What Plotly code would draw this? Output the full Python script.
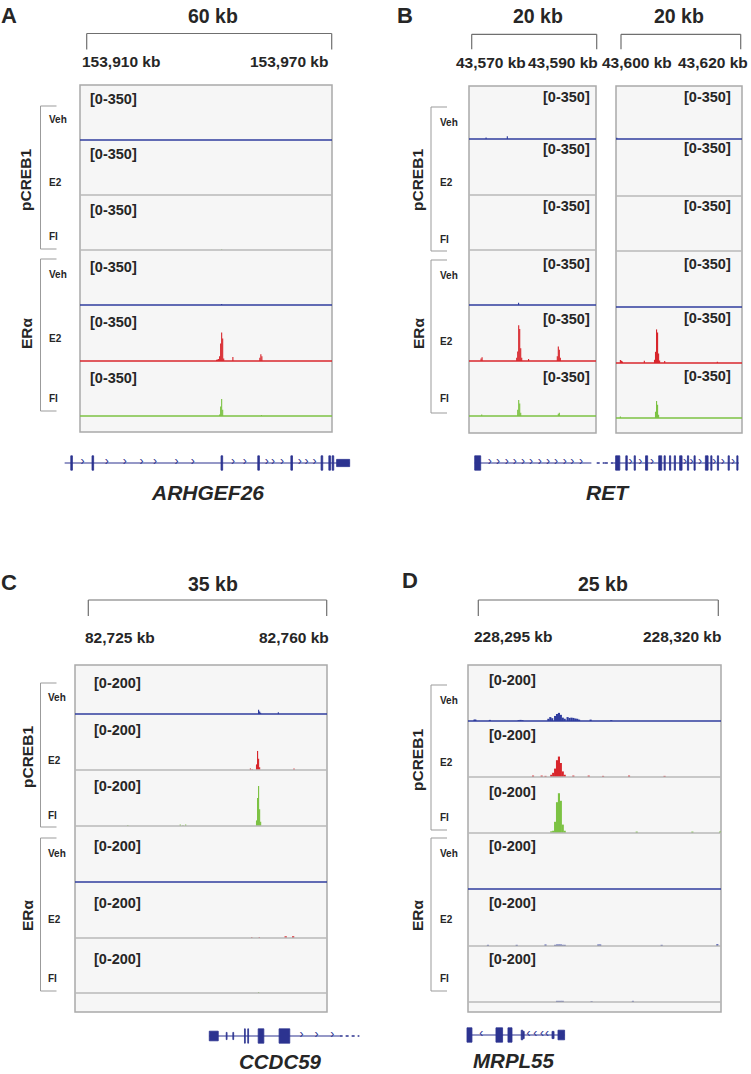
import plotly.graph_objects as go

# ======================= DATA =======================
TREATMENTS = ["Veh", "E2", "FI", "Veh", "E2", "FI"]
FACTORS = ["pCREB1", "ERα"]

# ---------- Panel A : ARHGEF26, scale [0-350], genomic kb ----------
A_SPAN_LABEL = "60 kb"
A_WINDOW = [153910, 153970]
A_TICK_LABELS = ["153,910 kb", "153,970 kb"]
A_SCALE_MAX = 350
A_SCALE_LABEL = "[0-350]"
A_PCREB_VEH_X, A_PCREB_VEH_Y = [], []
A_PCREB_E2_X, A_PCREB_E2_Y = [], []
A_PCREB_FI_X, A_PCREB_FI_Y = [153943.05], [5]
A_ERA_VEH_X, A_ERA_VEH_Y = [153943.05], [6]
A_ERA_E2_X = [153941.8, 153942.05, 153942.3, 153942.55, 153942.8, 153943.05, 153943.3,
              153943.55, 153945.8, 153952.4, 153952.65, 153952.9]
A_ERA_E2_Y = [8, 10, 12, 30, 110, 178, 140, 15, 25, 20, 42, 30]
A_ERA_FI_X = [153942.55, 153942.8, 153943.05, 153943.3, 153952.8]
A_ERA_FI_Y = [10, 60, 108, 40, 6]
A_GENE = "ARHGEF26"
A_GENE_LINE = [153904.6, 153974.4]
A_EXON_START = [153906.1, 153911.3, 153942.9, 153951.9, 153960.0, 153967.4, 153969.3, 153970.1, 153971.2]
A_EXON_END = [153906.5, 153911.7, 153943.3, 153952.3, 153960.4, 153967.8, 153969.7, 153970.5, 153974.4]
A_EXON_KIND = ["cds", "cds", "cds", "cds", "cds", "cds", "cds", "cds", "utr"]
A_GENE_ARROWS = [153909.0, 153914.9, 153919.3, 153923.4, 153926.7, 153932.0, 153936.0, 153945.8,
                 153948.7, 153954.1, 153955.6, 153957.8, 153962.2, 153963.8, 153965.8]

# ---------- Panel B : RET, two windows, scale [0-350] ----------
B_SPAN_LABELS = ["20 kb", "20 kb"]
B_WINDOWS = [[43570, 43590], [43600, 43620]]
B_TICK_LABELS = [["43,570 kb", "43,590 kb"], ["43,600 kb", "43,620 kb"]]
B_SCALE_MAX = 350
B_SCALE_LABEL = "[0-350]"
B1_PCREB_VEH_X, B1_PCREB_VEH_Y = [43572.3, 43575.7], [10, 18]
B1_PCREB_E2_X, B1_PCREB_E2_Y = [], []
B1_PCREB_FI_X, B1_PCREB_FI_Y = [], []
B1_ERA_VEH_X, B1_ERA_VEH_Y = [43577.5], [14]
B1_ERA_E2_X = [43571.5, 43571.66, 43577.2, 43577.36, 43577.52, 43577.68, 43577.84, 43578.0,
               43579.1, 43583.7, 43583.86, 43584.02, 43584.18]
B1_ERA_E2_Y = [16, 24, 20, 60, 223, 200, 80, 20, 13, 30, 91, 70, 20]
B1_ERA_FI_X = [43571.6, 43577.36, 43577.52, 43577.68, 43577.84, 43583.86, 43584.02]
B1_ERA_FI_Y = [10, 40, 102, 80, 20, 14, 21]
B2_PCREB_VEH_X, B2_PCREB_VEH_Y = [43599.3], [8]
B2_PCREB_E2_X, B2_PCREB_E2_Y = [], []
B2_PCREB_FI_X, B2_PCREB_FI_Y = [], []
B2_ERA_VEH_X, B2_ERA_VEH_Y = [], []
B2_ERA_E2_X = [43599.9, 43600.07, 43600.24, 43603.9, 43605.6, 43605.77, 43605.94, 43606.11,
               43606.28, 43606.45, 43607.3, 43616.1]
B2_ERA_E2_Y = [18, 14, 10, 14, 20, 70, 210, 190, 60, 15, 13, 8]
B2_ERA_FI_X = [43599.9, 43605.77, 43605.94, 43606.11, 43606.28]
B2_ERA_FI_Y = [10, 40, 108, 85, 20]
B_GENE = "RET"
B_GENE_L_LINE = [43570.48, 43589.15]
B_GENE_L_DOTS = [43590.0, 43591.3]
B_GENE_L_EXON_START = [43570.48]
B_GENE_L_EXON_END = [43571.44]
B_GENE_L_EXON_KIND = ["cds"]
B_GENE_L_ARROWS = [43572.9, 43574.2, 43575.6, 43576.9, 43578.2, 43579.5, 43580.9, 43582.2,
                   43583.5, 43584.9, 43586.1, 43587.5]
B_GENE_R_DOTS = [43597.3, 43598.7]
B_GENE_R_LINE = [43598.7, 43619.7]
B_GENE_R_EXON_START = [43599.1, 43600.8, 43602.2, 43604.1, 43606.3, 43607.2, 43608.1, 43608.9,
                       43609.8, 43611.1, 43612.2, 43614.1, 43615.0, 43616.1, 43617.9, 43619.35]
B_GENE_R_EXON_END = [43599.8, 43601.05, 43602.4, 43604.45, 43606.8, 43607.4, 43608.3, 43609.1,
                     43610.2, 43611.3, 43612.4, 43614.55, 43615.2, 43616.3, 43618.1, 43619.55]
B_GENE_R_EXON_KIND = ["cds"] * 16
B_GENE_R_ARROWS = [43601.6, 43603.2, 43605.2, 43610.7, 43611.8, 43613.2, 43615.6, 43617.0, 43618.7]

# ---------- Panel C : CCDC59, scale [0-200] ----------
C_SPAN_LABEL = "35 kb"
C_WINDOW = [82725, 82760]
C_TICK_LABELS = ["82,725 kb", "82,760 kb"]
C_SCALE_MAX = 200
C_SCALE_LABEL = "[0-200]"
C_PCREB_VEH_X, C_PCREB_VEH_Y = [82750.0, 82750.15, 82750.3, 82752.9], [17, 10, 5, 7]
C_PCREB_E2_X = [82748.8, 82749.05, 82749.7, 82749.85, 82750.0, 82750.15, 82755.2]
C_PCREB_E2_Y = [5, 4, 20, 68, 40, 10, 5]
C_PCREB_FI_X = [82730.8, 82738.5, 82738.9, 82739.3, 82749.7, 82749.85, 82750.0, 82750.15, 82750.3]
C_PCREB_FI_Y = [4, 5, 4, 5, 20, 100, 143, 60, 15]
C_ERA_VEH_X, C_ERA_VEH_Y = [], []
C_ERA_E2_X = [82749.0, 82750.1, 82753.9, 82754.05, 82755.0, 82755.15]
C_ERA_E2_Y = [4, 4, 6, 6, 6, 6]
C_ERA_FI_X, C_ERA_FI_Y = [82750.0], [4]
C_GENE = "CCDC59"
C_GENE_LINE = [82742.76, 82761.9]
C_GENE_DOTS = [82761.9, 82764.8]
C_EXON_START = [82742.76, 82745.25, 82746.22, 82747.93, 82748.41, 82749.94, 82753.01]
C_EXON_END = [82744.08, 82745.37, 82746.34, 82748.05, 82748.53, 82750.77, 82754.58]
C_EXON_KIND = ["mid", "utr", "utr", "cds", "cds", "cds", "cds"]
C_GENE_ARROWS = [82756.3, 82758.5, 82760.8]

# ---------- Panel D : MRPL55, scale [0-200] ----------
D_SPAN_LABEL = "25 kb"
D_WINDOW = [228295, 228320]
D_TICK_LABELS = ["228,295 kb", "228,320 kb"]
D_SCALE_MAX = 200
D_SCALE_LABEL = "[0-200]"
D_PCREB_VEH_X = [228294.6, 228294.7, 228296.2, 228299.2, 228299.4, 228299.6, 228302.3, 228302.5,
                 228302.7, 228303.0, 228303.2, 228303.4, 228303.6, 228303.8, 228304.0, 228304.3,
                 228304.5, 228304.7, 228304.9, 228305.1, 228305.3, 228305.5, 228306.7, 228308.85]
D_PCREB_VEH_Y = [5, 5, 4, 3, 4, 3, 8, 14, 10, 18, 25, 29, 22, 12, 8, 14, 11, 12, 11, 9, 8, 5, 5, 3]
D_PCREB_E2_X = [228300.7, 228301.6, 228302.0, 228302.6, 228302.8, 228303.0, 228303.2, 228303.4,
                228303.6, 228303.8, 228304.0, 228304.9, 228306.5, 228308.0, 228310.7, 228314.4]
D_PCREB_E2_Y = [5, 5, 4, 8, 15, 30, 60, 73, 50, 20, 8, 5, 5, 4, 5, 4]
D_PCREB_FI_X = [228302.6, 228302.8, 228303.0, 228303.2, 228303.4, 228303.6, 228303.8, 228304.0,
                228311.5, 228317.3, 228320.2]
D_PCREB_FI_Y = [6, 8, 40, 110, 142, 115, 30, 8, 5, 5, 5]
D_ERA_VEH_X, D_ERA_VEH_Y = [], []
D_ERA_E2_X = [228296.0, 228299.0, 228302.0, 228303.0, 228303.2, 228303.4, 228303.6, 228303.8,
              228304.0, 228307.5, 228307.7, 228314.1, 228319.9]
D_ERA_E2_Y = [4, 4, 5, 4, 5, 5, 5, 4, 4, 5, 5, 4, 6]
D_ERA_FI_X = [228303.2, 228303.4, 228303.6, 228303.8, 228306.8, 228311.1]
D_ERA_FI_Y = [4, 4, 4, 4, 3, 4]
D_GENE = "MRPL55"
D_GENE_LINE = [228293.82, 228303.99]
D_EXON_START = [228293.82, 228296.84, 228298.09, 228299.47, 228299.66, 228302.68, 228303.30]
D_EXON_END = [228294.34, 228297.53, 228298.51, 228299.63, 228299.78, 228302.89, 228303.99]
D_EXON_KIND = ["cds", "cds", "cds", "mid", "utr", "utr", "mid"]
D_GENE_ARROWS = [228295.31, 228300.24, 228300.94, 228301.64, 228302.16]

# ======================= STYLE / LAYOUT =======================
W, H = 751, 1074
FONT = "Liberation Sans, Arial, Helvetica, sans-serif"
TXT = "#262626"
BLUE = "#2f3c9e"
RED = "#d8262c"
GREEN = "#7cc243"
NAVY = "#2c3390"
SEP = "#b8b8b8"
BOXLINE = "#a9a9a9"
BG = "#f6f6f6"
BRK = "#6f6f6f"
GBRK = "#9b9b9b"
EXON_HALF = {"cds": 0.9, "mid": 0.6, "utr": 0.45}
EXT = 3  # px of axis domain kept below each baseline so the baseline line is not clipped


def PX(x):
    return x / W


def PY(y):
    return 1 - y / H


fig = go.Figure()
L = dict(width=W, height=H, margin=dict(l=0, r=0, t=0, b=0), template="none",
         paper_bgcolor="white", plot_bgcolor="rgba(0,0,0,0)", showlegend=False,
         barmode="overlay")
shapes, annots = [], []
cnt = {"x": 0, "y": 0}


def axis(kind, lo, hi, rng, anchor=None):
    cnt[kind] += 1
    n = cnt[kind]
    ref = kind if n == 1 else f"{kind}{n}"
    d = dict(domain=[lo, hi], range=rng, visible=False, fixedrange=True,
             showgrid=False, zeroline=False)
    if anchor:
        d["anchor"] = anchor
    L[f"{kind}axis" + ("" if n == 1 else str(n))] = d
    return ref


def text(x, y, s, size, bold=True, italic=False, anchor="center", angle=0):
    annots.append(dict(x=PX(x), y=PY(y), xref="paper", yref="paper", text=s, showarrow=False,
                       xanchor=anchor, yanchor="middle", textangle=angle,
                       font=dict(family=FONT, size=size, color=TXT,
                                 weight="bold" if bold else "normal",
                                 style="italic" if italic else "normal")))


def pline(x0, y0, x1, y1, color, w):
    shapes.append(dict(type="line", xref="paper", yref="paper", x0=PX(x0), y0=PY(y0),
                       x1=PX(x1), y1=PY(y1), line=dict(color=color, width=w)))


def scale_of(bracket, window):
    b0, b1 = bracket
    s = (window[1] - window[0]) / (b1 - b0)
    return lambda px: window[0] + (px - b0) * s


def view(box, bracket, window, top, bottom, baselines, xs, ys, colors, colored,
         smax, slabel, lab_x, lab_anchor, lab_ys, bin_w, brk_y, title, title_xy,
         ticklabels, tick_xs, tick_y):
    f = scale_of(bracket, window)
    xr = axis("x", PX(box[0]), PX(box[1]), [f(box[0]), f(box[1])])
    shapes.append(dict(type="rect", xref="paper", yref="paper", x0=PX(box[0]), x1=PX(box[1]),
                       y0=PY(bottom), y1=PY(top), fillcolor=BG,
                       line=dict(color=BOXLINE, width=1.5), layer="below"))
    tops = [top] + baselines[:-1]
    for i in range(6):
        h = baselines[i] - tops[i]
        yr = axis("y", PY(baselines[i] + EXT), PY(tops[i]), [-smax * EXT / h, smax], anchor=xr)
        if xs[i]:
            fig.add_trace(go.Bar(x=xs[i], y=ys[i], width=bin_w, base=0, xaxis=xr, yaxis=yr,
                                 marker=dict(color=colors[i], line=dict(width=0)),
                                 hoverinfo="skip"))
        shapes.append(dict(type="line", xref=f"{xr} domain", yref=yr, x0=0, x1=1, y0=0, y1=0,
                           line=dict(color=colors[i] if colored[i] else SEP,
                                     width=1.7 if colored[i] else 1.3)))
        text(lab_x, lab_ys[i], slabel, 14.5, anchor=lab_anchor)
    # scale bracket
    b0, b1 = bracket
    pline(b0, brk_y[0], b1, brk_y[0], BRK, 1.2)
    pline(b0, brk_y[0], b0, brk_y[1], BRK, 1.2)
    pline(b1, brk_y[0], b1, brk_y[1], BRK, 1.2)
    text(title_xy[0], title_xy[1], title, 19.5)
    for lab, tx in zip(ticklabels, tick_xs):
        text(tx, tick_y, lab, 15.5)


def side_labels(lab_x, lab_ys, bx, groups, gl_x, gl_ys):
    for t, yy in zip(TREATMENTS, lab_ys):
        text(lab_x, yy, t, 10, anchor="left")
    for (g0, g1), name, gy in zip(groups, FACTORS, gl_ys):
        pline(bx, g0, bx, g1, GBRK, 1)
        pline(bx, g0, bx + 16, g0, GBRK, 1)
        pline(bx, g1, bx + 16, g1, GBRK, 1)
        text(gl_x, gy, name, 15.5, angle=-90)


def gene(dom_px, bracket, window, yc, lines, dots, ex_s, ex_e, ex_k, arrows, arrow_char):
    f = scale_of(bracket, window)
    gx = axis("x", PX(dom_px[0]), PX(dom_px[1]), [f(dom_px[0]), f(dom_px[1])])
    gy = axis("y", PY(yc + 8), PY(yc - 8), [-1, 1], anchor=gx)
    for seg in lines:
        fig.add_trace(go.Scatter(x=seg, y=[0] * len(seg), mode="lines", xaxis=gx, yaxis=gy,
                                 line=dict(color=NAVY, width=1.2), hoverinfo="skip"))
    for seg in dots:
        fig.add_trace(go.Scatter(x=seg, y=[0] * len(seg), mode="lines", xaxis=gx, yaxis=gy,
                                 line=dict(color=NAVY, width=1.6, dash="dot"), hoverinfo="skip"))
    for s, e, k in zip(ex_s, ex_e, ex_k):
        h = EXON_HALF[k]
        shapes.append(dict(type="rect", xref=gx, yref=gy, x0=s, x1=e, y0=-h, y1=h,
                           fillcolor=NAVY, line=dict(color=NAVY, width=0.8)))
    if arrows:
        fig.add_trace(go.Scatter(x=arrows, y=[0.12] * len(arrows), mode="text",
                                 text=[arrow_char] * len(arrows), xaxis=gx, yaxis=gy,
                                 textfont=dict(family=FONT, size=12, color=NAVY),
                                 hoverinfo="skip"))


COL_STD = [BLUE, RED, GREEN, BLUE, RED, GREEN]
COL_D = [BLUE, RED, GREEN, BLUE, BLUE, BLUE]
ON_AB = [True, False, False, True, True, True]
ON_CD = [True, False, False, True, False, False]

# ---------------- Panel A ----------------
text(9, 15, "A", 22)
view(box=(80, 332), bracket=(86.7, 331.7), window=A_WINDOW, top=85, bottom=432,
     baselines=[140, 195, 250, 305, 361, 416],
     xs=[A_PCREB_VEH_X, A_PCREB_E2_X, A_PCREB_FI_X, A_ERA_VEH_X, A_ERA_E2_X, A_ERA_FI_X],
     ys=[A_PCREB_VEH_Y, A_PCREB_E2_Y, A_PCREB_FI_Y, A_ERA_VEH_Y, A_ERA_E2_Y, A_ERA_FI_Y],
     colors=COL_STD, colored=ON_AB, smax=A_SCALE_MAX, slabel=A_SCALE_LABEL,
     lab_x=88, lab_anchor="left", lab_ys=[99, 154, 210, 267, 322, 378], bin_w=0.27,
     brk_y=(33.5, 49.5), title=A_SPAN_LABEL, title_xy=(213, 16),
     ticklabels=A_TICK_LABELS, tick_xs=[121, 289], tick_y=62)
side_labels(47, [120, 182, 237, 274, 339, 398], 40.5, [(106, 249), (259, 411)], 26, [180, 333])
gene((60, 360), (86.7, 331.7), A_WINDOW, 463, [A_GENE_LINE], [],
     A_EXON_START, A_EXON_END, A_EXON_KIND, A_GENE_ARROWS, "›")
text(207, 493, A_GENE, 21, italic=True)

# ---------------- Panel B ----------------
text(405, 15, "B", 22)
view(box=(469, 596), bracket=(471.7, 596.7), window=B_WINDOWS[0], top=86, bottom=433,
     baselines=[139, 195, 250, 305, 361, 416],
     xs=[B1_PCREB_VEH_X, B1_PCREB_E2_X, B1_PCREB_FI_X, B1_ERA_VEH_X, B1_ERA_E2_X, B1_ERA_FI_X],
     ys=[B1_PCREB_VEH_Y, B1_PCREB_E2_Y, B1_PCREB_FI_Y, B1_ERA_VEH_Y, B1_ERA_E2_Y, B1_ERA_FI_Y],
     colors=COL_STD, colored=ON_AB, smax=B_SCALE_MAX, slabel=B_SCALE_LABEL,
     lab_x=592, lab_anchor="right", lab_ys=[97, 149, 206, 264, 319, 377], bin_w=0.18,
     brk_y=(34.3, 49.3), title=B_SPAN_LABELS[0], title_xy=(538, 16),
     ticklabels=B_TICK_LABELS[0], tick_xs=[491, 563], tick_y=63)
view(box=(616, 742), bracket=(621, 740.7), window=B_WINDOWS[1], top=86, bottom=433,
     baselines=[139, 196, 251, 307, 363, 418],
     xs=[B2_PCREB_VEH_X, B2_PCREB_E2_X, B2_PCREB_FI_X, B2_ERA_VEH_X, B2_ERA_E2_X, B2_ERA_FI_X],
     ys=[B2_PCREB_VEH_Y, B2_PCREB_E2_Y, B2_PCREB_FI_Y, B2_ERA_VEH_Y, B2_ERA_E2_Y, B2_ERA_FI_Y],
     colors=COL_STD, colored=ON_AB, smax=B_SCALE_MAX, slabel=B_SCALE_LABEL,
     lab_x=733, lab_anchor="right", lab_ys=[97, 148, 206, 264, 318, 376], bin_w=0.19,
     brk_y=(34.3, 49.3), title=B_SPAN_LABELS[1], title_xy=(679, 16),
     ticklabels=B_TICK_LABELS[1], tick_xs=[637, 713], tick_y=63)
side_labels(438, [122, 183, 239, 275, 341, 399], 431, [(107, 251), (260, 413)], 418, [180, 333])
gene((465, 605), (471.7, 596.7), B_WINDOWS[0], 463, [B_GENE_L_LINE], [B_GENE_L_DOTS],
     B_GENE_L_EXON_START, B_GENE_L_EXON_END, B_GENE_L_EXON_KIND, B_GENE_L_ARROWS, "›")
gene((605, 745), (621, 740.7), B_WINDOWS[1], 463, [B_GENE_R_LINE], [B_GENE_R_DOTS],
     B_GENE_R_EXON_START, B_GENE_R_EXON_END, B_GENE_R_EXON_KIND, B_GENE_R_ARROWS, "›")
text(608, 493, B_GENE, 21, italic=True)

# ---------------- Panel C ----------------
text(9, 582, "C", 22)
view(box=(75, 327), bracket=(88.3, 326.7), window=C_WINDOW, top=665, bottom=1012,
     baselines=[714, 770, 826, 882, 938, 993],
     xs=[C_PCREB_VEH_X, C_PCREB_E2_X, C_PCREB_FI_X, C_ERA_VEH_X, C_ERA_E2_X, C_ERA_FI_X],
     ys=[C_PCREB_VEH_Y, C_PCREB_E2_Y, C_PCREB_FI_Y, C_ERA_VEH_Y, C_ERA_E2_Y, C_ERA_FI_Y],
     colors=COL_STD, colored=ON_CD, smax=C_SCALE_MAX, slabel=C_SCALE_LABEL,
     lab_x=92, lab_anchor="left", lab_ys=[683, 730, 786, 846, 903, 959], bin_w=0.17,
     brk_y=(600, 616), title=C_SPAN_LABEL, title_xy=(213, 584),
     ticklabels=C_TICK_LABELS, tick_xs=[120, 294], tick_y=637)
side_labels(46, [697, 760, 815, 853, 919, 978], 40.5, [(683, 827), (838, 991)], 27, [757, 915])
gene((200, 370), (88.3, 326.7), C_WINDOW, 1036, [C_GENE_LINE], [C_GENE_DOTS],
     C_EXON_START, C_EXON_END, C_EXON_KIND, C_GENE_ARROWS, "›")
text(280, 1061, C_GENE, 20.5, italic=True)

# ---------------- Panel D ----------------
text(410, 580, "D", 22)
view(box=(468, 721), bracket=(478.3, 718.3), window=D_WINDOW, top=665, bottom=1012,
     baselines=[721, 777, 833, 889, 946, 1002],
     xs=[D_PCREB_VEH_X, D_PCREB_E2_X, D_PCREB_FI_X, D_ERA_VEH_X, D_ERA_E2_X, D_ERA_FI_X],
     ys=[D_PCREB_VEH_Y, D_PCREB_E2_Y, D_PCREB_FI_Y, D_ERA_VEH_Y, D_ERA_E2_Y, D_ERA_FI_Y],
     colors=COL_D, colored=ON_CD, smax=D_SCALE_MAX, slabel=D_SCALE_LABEL,
     lab_x=487, lab_anchor="left", lab_ys=[680, 735, 792, 846, 903, 959], bin_w=0.22,
     brk_y=(600, 616), title=D_SPAN_LABEL, title_xy=(603, 584),
     ticklabels=D_TICK_LABELS, tick_xs=[513, 682], tick_y=636)
side_labels(438, [700, 762, 817, 853, 919, 978], 431, [(685, 830), (838, 991)], 417, [760, 915])
gene((460, 570), (478.3, 718.3), D_WINDOW, 1035, [D_GENE_LINE], [],
     D_EXON_START, D_EXON_END, D_EXON_KIND, D_GENE_ARROWS, "‹")
text(513, 1060, D_GENE, 20.5, italic=True)

L["shapes"] = shapes
L["annotations"] = annots
fig.update_layout(**L)
fig.write_html("out.html", config={"displayModeBar": False, "staticPlot": True},
               post_script="document.body.style.margin='0';document.body.style.overflow='hidden';")
